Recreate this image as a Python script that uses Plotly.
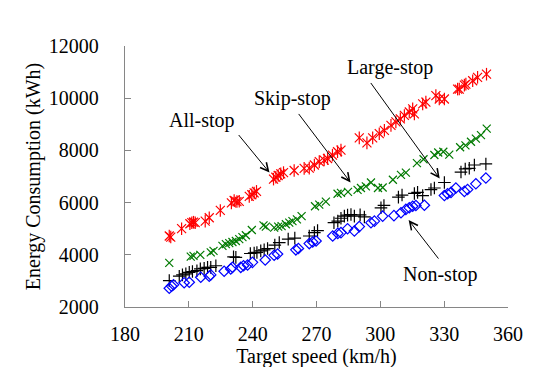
import plotly.graph_objects as go

# ---- data ----
all_stop_speed = [200.8, 201.5, 206.6, 210.5, 211.4, 212.2, 213.0, 217.7, 219.6, 224.8,
                  230.0, 231.3, 232.6, 233.7, 238.4, 239.6, 240.7, 241.8, 249.8, 250.9,
                  252.0, 253.2, 254.5, 259.5, 264.2, 266.6, 269.0, 271.3, 273.6, 275.2,
                  277.5, 279.9, 281.5, 290.1, 293.7, 296.4, 299.5, 301.9, 305.0, 307.3,
                  309.4, 311.3, 313.6, 315.2, 316.0, 319.9, 321.4, 326.1, 327.7, 330.1,
                  336.3, 337.1, 339.5, 340.2, 343.4, 345.7, 349.9]
all_stop_energy = [4720, 4680, 5000, 5190, 5230, 5250, 5230, 5290, 5420, 5700,
                   5990, 6080, 6040, 6050, 6240, 6300, 6370, 6430, 6900, 6970,
                   7040, 7100, 7150, 7230, 7310, 7320, 7440, 7570, 7630, 7690,
                   7820, 7950, 8010, 8480, 8290, 8480, 8640, 8770, 8960, 9090,
                   9210, 9340, 9470, 9590, 9400, 9780, 9850, 10100, 9970, 9970,
                   10350, 10350, 10500, 10540, 10670, 10800, 10920]

skip_stop_speed = [200.8, 210.9, 212.2, 215.4, 220.3, 221.6, 225.8, 227.4, 229.0, 230.5,
                   232.1, 233.7, 235.2, 236.8, 239.6, 245.1, 246.2, 250.1, 252.0, 253.6,
                   255.6, 257.2, 258.7, 260.8, 263.0, 269.3, 271.3, 274.4, 279.9, 281.5,
                   284.8, 289.3, 290.9, 293.2, 295.6, 298.9, 301.1, 305.9, 309.7, 312.0,
                   317.2, 320.3, 325.4, 327.2, 329.6, 332.4, 337.5, 340.0, 342.6, 344.9,
                   347.3, 350.0]
skip_stop_energy = [3690, 3930, 3960, 4000, 4090, 4150, 4340, 4410, 4450, 4490,
                    4530, 4600, 4680, 4750, 4950, 5130, 5080, 5040, 5080, 5100,
                    5170, 5230, 5290, 5360, 5480, 5860, 5920, 6040, 6340, 6370,
                    6410, 6490, 6560, 6620, 6770, 6560, 6580, 6875, 7065, 7150,
                    7510, 7660, 7824, 7920, 7949, 7840, 8120, 8190, 8330, 8454,
                    8583, 8834]

large_stop_speed = [200.8, 205.5, 207.0, 208.6, 210.2, 211.7, 213.8, 215.4, 217.2, 218.8,
                    220.3, 222.7, 231.0, 232.1, 238.9, 240.7, 242.0, 243.8, 245.4, 247.0,
                    250.4, 252.5, 256.7, 259.8, 266.6, 269.0, 270.5, 278.2, 280.0, 281.5,
                    283.1, 284.6, 286.2, 287.8, 290.5, 292.5, 300.3, 301.7, 308.5, 310.2,
                    316.0, 317.5, 319.9, 323.8, 325.4, 330.1, 337.9, 339.9, 341.8, 344.2,
                    349.6]
large_stop_energy = [3010, 3180, 3230, 3270, 3330, 3360, 3390, 3460, 3480, 3520,
                     3520, 3580, 3920, 3900, 4050, 4070, 4090, 4150, 4190, 4240,
                     4370, 4470, 4600, 4640, 4720, 4850, 4930, 5230, 5290, 5400,
                     5480, 5520, 5545, 5480, 5530, 5450, 5800, 5890, 6210, 6290,
                     6350, 6390, 6270, 6500, 6560, 6770, 7170, 7290, 7315, 7440,
                     7480]

non_stop_speed = [200.8, 201.9, 202.8, 207.8, 210.2, 215.6, 219.6, 220.3, 226.6, 229.7,
                  230.5, 234.4, 235.7, 237.6, 239.9, 245.9, 250.1, 251.7, 260.3, 261.5,
                  266.6, 268.2, 269.8, 277.6, 280.0, 281.5, 284.6, 287.8, 290.1, 295.6,
                  297.2, 301.1, 306.4, 309.7, 312.0, 313.6, 315.2, 316.7, 320.7, 330.1,
                  331.6, 333.2, 335.5, 339.5, 341.0, 344.9, 349.6]
non_stop_energy = [2720, 2800, 2850, 2930, 2950, 3140, 3180, 3230, 3370, 3460,
                   3520, 3520, 3580, 3610, 3710, 3800, 3980, 4030, 4190, 4240,
                   4430, 4490, 4530, 4720, 4820, 4850, 5000, 4910, 5080, 5230,
                   5290, 5480, 5500, 5610, 5740, 5800, 5860, 5890, 5900, 6270,
                   6340, 6390, 6560, 6430, 6500, 6720, 6940]

series_names = ["All-stop", "Skip-stop", "Large-stop", "Non-stop"]
x_ticks = [180, 210, 240, 270, 300, 330, 360]
y_ticks = [2000, 4000, 6000, 8000, 10000, 12000]
y_tick_labels = ["2000", "4000", "6000", "8000", "10000", "12000"]

FONT = "Liberation Serif, Times New Roman, serif"
FS = 20

fig = go.Figure()

# All-stop: Excel-style star (x + vertical bar)
for sym in ["x-thin-open", "line-ns-open"]:
    fig.add_trace(go.Scatter(
        x=all_stop_speed, y=all_stop_energy, mode="markers", name=series_names[0],
        marker=dict(symbol=sym, size=9, color="#FF0000",
                    line=dict(color="#FF0000", width=1.2)),
        showlegend=False))

fig.add_trace(go.Scatter(
    x=skip_stop_speed, y=skip_stop_energy, mode="markers", name=series_names[1],
    marker=dict(symbol="x-thin-open", size=8, color="#007A00",
                line=dict(color="#007A00", width=1.2)),
    showlegend=False))

fig.add_trace(go.Scatter(
    x=large_stop_speed, y=large_stop_energy, mode="markers", name=series_names[2],
    marker=dict(symbol="cross-thin-open", size=9, color="#000000",
                line=dict(color="#000000", width=1.2)),
    showlegend=False))

fig.add_trace(go.Scatter(
    x=non_stop_speed, y=non_stop_energy, mode="markers", name=series_names[3],
    marker=dict(symbol="diamond-open", size=8, color="#0000FF",
                line=dict(color="#0000FF", width=1.2)),
    showlegend=False))

# ---- annotations: arrows (head in data coords, tail as pixel offset) ----
arrows = [
    (247.9, 7152, -32, -39),
    (286.0, 6772, -53, -70),
    (327.9, 6924, -70, -97),
    (313.3, 5330, 31, 40),
]
for (hx, hy, ax, ay) in arrows:
    fig.add_annotation(x=hx, y=hy, xref="x", yref="y", ax=ax, ay=ay,
                       axref="pixel", ayref="pixel", text="", showarrow=True,
                       arrowhead=5, arrowsize=1.6, arrowwidth=1, arrowcolor="#000000",
                       standoff=0, startstandoff=0)

label_pos = [(216.4, 9164), (258.7, 9999), (304.4, 11176), (327.9, 3241)]
for name, (lx, ly) in zip(series_names, label_pos):
    fig.add_annotation(x=lx, y=ly, xref="x", yref="y", text=name, showarrow=False,
                       font=dict(family=FONT, size=FS, color="#000000"),
                       xanchor="center", yanchor="middle")

axis_common = dict(
    showline=True, linecolor="#868686", linewidth=1.3,
    ticks="inside", ticklen=6, tickcolor="#868686", tickwidth=1.3,
    showgrid=False, zeroline=False, mirror=False,
    tickfont=dict(family=FONT, size=FS, color="#000000"),
)

fig.update_layout(
    width=552, height=367,
    margin=dict(l=117, r=52, t=38, b=65, pad=0),
    paper_bgcolor="white", plot_bgcolor="white",
    xaxis=dict(range=[180, 360], tickvals=x_ticks, ticklabelstandoff=9,
               title=dict(text="Target speed (km/h)", standoff=4,
                          font=dict(family=FONT, size=FS, color="#000000")),
               **axis_common),
    yaxis=dict(range=[2000, 12000], tickvals=y_ticks, ticktext=y_tick_labels,
               ticklabelstandoff=21,
               title=dict(text="Energy Consumption (kWh)", standoff=2,
                          font=dict(family=FONT, size=FS, color="#000000")),
               **axis_common),
    showlegend=False,
)

fig.write_html("out.html")
